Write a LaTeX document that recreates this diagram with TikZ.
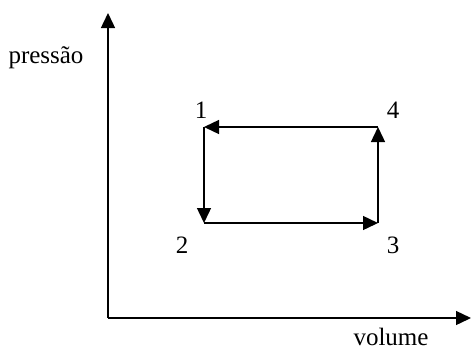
\documentclass[tikz,border=0pt]{standalone}
\usepackage{fontspec}
\setmainfont{Liberation Serif}
\usetikzlibrary{arrows.meta,positioning}

\begin{document}
\begin{tikzpicture}[x=1pt, y=-1pt, line width=1.4pt,
  tip/.style={-{Triangle[length=15pt,width=14pt]}},
  lbl/.style={anchor=base, inner sep=0pt, font=\fontsize{25}{30}\selectfont}]
\useasboundingbox (0,0) rectangle (471,349);

% Axes
\coordinate (origin) at (108,318);
\coordinate (ytop) at (108,13);
\coordinate (xend) at (471,318);
\draw[tip] (origin) -- (ytop);
\draw[tip] (origin) -- (xend);
\node[lbl] (pressao) at (46,63) {pressão};
\node[lbl, text depth=0pt] (volume) at (391,345) {volume};

% Cycle
\coordinate (s1) at (204,127);
\coordinate (s2) at (204,223);
\coordinate (s3) at (378,223);
\coordinate (s4) at (378,127);
\draw[tip] (s1) -- (s2);
\draw[tip] (s2) -- (s3);
\draw[tip] (s3) -- (s4);
\draw[tip] (s4) -- (s1);

% State labels
\node[lbl] (n1) at (201,118) {1};
\node[lbl] (n2) at (182,253) {2};
\node[lbl] (n3) at (393,253) {3};
\node[lbl] (n4) at (393,118) {4};
\end{tikzpicture}
\end{document}
